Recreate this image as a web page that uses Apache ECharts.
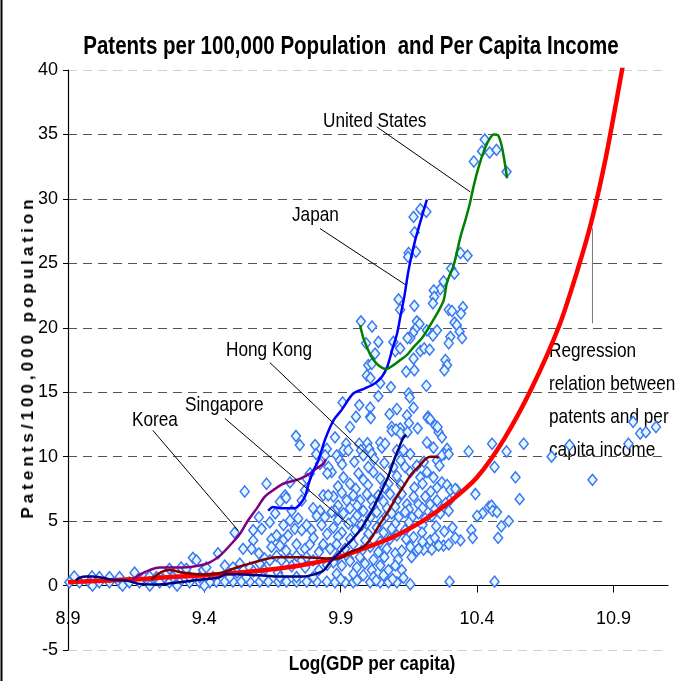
<!DOCTYPE html>
<html>
<head>
<meta charset="utf-8">
<title>Patents per 100,000 Population and Per Capita Income</title>
<script src="https://cdn.jsdelivr.net/npm/echarts@6/dist/echarts.min.js"></script>
<style>
  html, body { margin: 0; padding: 0; background: #fff; }
  #wrap { position: relative; width: 684px; height: 681px; }
  #chart { width: 684px; height: 681px; }
  /* y axis name: needs letter spacing, which canvas text in echarts can't do */
  #yName {
    position: absolute; left: 28px; top: 357px;
    transform: translate(-50%, -50%) rotate(-90deg);
    font: bold 17px 'Liberation Sans', Arial, sans-serif;
    letter-spacing: 4px; white-space: nowrap; color: #000;
  }
</style>
</head>
<body>
<div id="wrap">
  <div id="chart"></div>
  <div id="yName">Patents/100,000 population</div>
</div>
<script>
// axis ticks
var xTicks = [8.9, 9.4, 9.9, 10.4, 10.9]

// country data points (log gdp per capita, patents per 100,000)
var patentPoints = [
  [10.369, 10.4], [10.455, 11.0], [10.508, 10.4], [10.571, 11.0], [10.464, 9.2], [10.541, 8.4],
  [10.326, 7.4], [10.394, 7.1], [10.556, 6.7], [10.443, 6.1], [10.453, 6.2], [10.457, 5.8],
  [10.473, 5.7], [10.42, 5.6], [10.4, 5.4], [10.516, 5.0], [10.489, 4.6], [10.379, 4.3],
  [10.384, 3.7], [10.477, 3.7], [10.339, 3.5], [10.464, 0.3], [10.673, 10.0], [10.739, 10.9],
  [10.823, 8.2], [10.955, 11.0], [10.972, 12.7], [10.998, 11.8], [11.019, 11.9], [11.056, 12.3],
  [10.428, 34.6], [10.418, 33.7], [10.446, 33.6], [10.471, 33.8], [10.388, 32.9], [10.508, 32.1],
  [10.192, 29.2], [10.214, 29.0], [10.167, 28.6], [10.171, 27.4], [10.176, 25.9], [10.149, 25.8],
  [10.147, 25.5], [10.339, 25.8], [10.365, 25.6], [10.305, 24.6], [10.317, 24.2], [10.277, 23.6],
  [10.265, 23.0], [10.241, 22.9], [10.243, 22.4], [10.112, 22.2], [10.238, 21.9],
  [10.17, 21.7], [10.118, 21.4], [10.296, 21.4], [10.308, 21.3], [10.348, 21.6], [10.341, 21.1],
  [9.974, 20.5], [10.015, 20.1], [10.179, 20.5], [10.189, 20.3], [10.173, 19.9], [10.165, 19.6],
  [10.155, 19.2], [10.145, 19.2], [10.216, 19.8], [10.253, 19.8], [10.317, 20.4], [10.326, 20.2],
  [10.336, 19.7], [10.345, 19.2], [10.302, 19.3], [10.296, 18.8], [10.238, 19.4], [10.038, 18.9],
  [10.093, 18.9], [9.993, 18.8], [10.026, 18.0], [10.1, 18.2], [10.118, 18.4], [10.192, 18.2],
  [10.206, 18.4], [10.226, 18.3], [10.167, 17.6], [10.001, 17.1], [10.014, 17.2], [9.996, 16.3],
  [10.009, 16.1], [10.14, 16.6], [10.17, 16.7], [10.284, 17.5], [10.29, 17.1], [10.28, 16.7],
  [10.045, 15.7], [10.084, 15.4], [10.214, 15.5], [10.038, 14.7], [10.149, 14.9], [10.153, 14.6],
  [9.907, 14.2], [9.968, 14.0], [10.008, 13.8], [10.167, 13.8], [10.106, 13.7],
  [10.008, 13.1], [9.934, 12.3], [9.879, 11.5], [9.806, 10.9], [9.75, 10.9], [10.079, 13.3],
  [10.087, 12.3], [10.118, 12.2], [10.182, 12.2], [10.143, 13.2], [10.22, 13.1], [10.247, 12.4],
  [10.259, 11.9], [10.271, 11.5], [10.32, 3.7], [10.277, 3.1], [10.296, 3.2], [10.222, 3.0],
  [10.234, 2.8], [10.179, 2.7], [10.204, 2.8], [10.299, 0.3], [10.155, 0.1],
  [9.956, 13.1], [10.01, 13.0], [10.219, 13.0], [10.228, 12.9], [10.255, 12.3], [10.087, 12.0],
  [10.103, 12.1], [10.12, 11.8], [10.15, 12.6], [10.145, 11.9], [10.216, 11.1], [10.24, 10.7],
  [9.92, 11.0], [9.91, 10.5], [9.928, 10.5], [9.968, 11.0], [9.998, 11.05], [10.005, 10.6],
  [10.045, 11.1], [10.051, 10.7], [10.063, 11.0], [9.974, 10.5], [9.983, 10.1], [10.014, 10.2],
  [10.023, 9.8], [10.106, 10.5], [10.13, 10.5], [10.155, 10.2], [10.29, 10.6], [10.28, 10.2],
  [10.271, 10.1], [10.296, 10.2], [10.253, 9.7], [9.885, 10.1], [9.897, 9.7],
  [9.905, 9.4], [9.95, 9.6], [10.06, 9.5], [10.12, 9.7], [10.205, 9.6], [10.262, 9.3],
  [9.867, 8.8], [9.91, 8.4], [9.934, 7.9], [9.965, 8.7], [9.983, 8.2], [10.001, 9.2],
  [10.02, 8.8], [10.045, 8.3], [10.075, 7.9], [10.093, 9.2], [10.106, 8.5], [10.136, 9.2],
  [10.155, 8.8], [10.179, 9.3], [10.192, 8.4], [10.216, 8.8], [10.24, 8.4], [10.253, 7.6],
  [10.271, 8.0], [10.29, 7.8], [10.302, 7.4], [10.32, 7.5],
  [9.89, 7.7], [9.955, 7.5], [10.0, 7.8], [10.06, 7.6], [10.12, 7.8], [10.17, 7.6],
  [10.2, 7.9], [10.23, 7.3],
  [9.873, 6.9], [9.904, 7.2], [9.922, 6.6], [9.946, 7.0], [9.971, 6.6], [9.996, 7.1],
  [10.014, 6.6], [10.038, 7.0], [10.057, 6.5], [10.081, 7.1], [10.106, 6.6], [10.124, 7.1],
  [10.143, 6.3], [10.167, 6.9], [10.185, 6.3], [10.21, 6.9], [10.228, 6.3], [10.253, 6.6],
  [10.277, 6.1], [10.299, 6.6],
  [9.89, 6.2], [9.96, 6.2], [10.02, 6.1], [10.07, 6.0], [10.1, 6.1], [10.15, 5.9],
  [10.2, 6.0], [10.245, 5.9], [10.285, 6.4],
  [9.879, 5.8], [9.91, 5.6], [9.934, 6.0], [9.959, 5.4], [9.983, 5.8], [10.008, 5.3],
  [10.032, 5.7], [10.063, 5.3], [10.087, 5.6], [10.112, 5.3], [10.136, 5.7], [10.161, 5.3],
  [10.185, 5.6], [10.21, 5.2], [10.234, 5.4], [10.265, 5.6], [10.296, 5.8],
  [9.89, 5.1], [9.945, 5.0], [9.995, 4.8], [10.05, 5.0], [10.1, 4.8], [10.15, 4.9],
  [10.2, 4.7], [10.25, 4.6], [10.28, 4.2], [10.31, 4.5],
  [9.873, 4.5], [9.904, 4.1], [9.928, 4.8], [9.953, 4.3], [9.977, 4.7], [10.001, 4.0],
  [10.032, 4.5], [10.057, 4.1], [10.087, 4.4], [10.106, 3.9], [10.136, 4.3], [10.167, 3.75],
  [10.198, 4.1], [10.228, 3.5], [10.259, 3.1],
  [9.89, 3.8], [9.935, 3.6], [9.99, 3.5], [10.045, 3.4], [10.08, 3.6], [10.14, 3.6],
  [10.2, 3.4], [10.245, 3.7],
  [9.885, 3.2], [9.916, 2.85], [9.946, 3.2], [9.977, 2.7], [10.008, 3.0], [10.038, 2.6],
  [10.069, 2.85], [10.1, 2.5], [10.124, 2.7], [10.155, 3.0], [10.185, 2.85],
  [9.89, 2.3], [9.93, 2.1], [9.97, 2.2], [10.02, 2.0], [10.06, 2.2], [10.11, 2.0], [10.16, 2.2],
  [9.873, 1.8], [9.904, 1.55], [9.934, 1.9], [9.959, 1.4], [9.989, 1.7], [10.014, 1.2],
  [10.045, 1.55], [10.075, 1.2], [10.1, 1.55], [10.124, 1.2],
  [9.879, 0.25], [9.916, 0.25], [9.946, 0.25], [10.008, 0.25], [10.045, 0.25], [10.075, 0.25],
  [10.106, 0.25], [9.885, 0.9], [9.946, 0.9], [9.983, 0.8], [10.02, 0.65], [10.057, 0.8],
  [9.9, 0.5], [9.96, 0.4], [10.03, 0.4], [10.09, 0.5], [10.13, 0.6],
  [9.736, 11.6], [9.81, 10.2], [9.849, 10.6], [9.843, 10.1], [9.855, 9.2], [9.851, 8.7],
  [9.824, 9.45], [9.787, 8.7], [9.775, 8.3], [9.714, 8.0], [9.769, 7.4], [9.757, 6.6],
  [9.628, 7.9], [9.548, 7.3], [9.677, 6.5], [9.696, 7.0], [9.836, 7.0], [9.854, 7.0],
  [9.799, 6.0], [9.824, 5.8], [9.812, 5.4], [9.842, 5.3], [9.867, 5.7], [9.714, 5.05],
  [9.744, 5.2], [9.732, 4.4], [9.757, 4.3], [9.775, 4.7], [9.793, 4.3], [9.61, 4.4],
  [9.579, 4.3], [9.646, 3.6], [9.511, 4.1], [9.579, 3.5], [9.665, 3.9], [9.689, 3.5],
  [9.707, 3.9], [9.542, 2.85], [9.573, 2.85], [9.646, 3.0], [9.677, 3.1], [9.738, 3.2],
  [9.769, 2.85], [9.787, 3.2], [9.836, 3.2], [9.861, 2.85], [9.45, 2.5], [9.475, 1.55],
  [9.505, 1.4], [9.53, 1.7], [9.567, 1.4], [9.603, 1.7], [9.621, 2.1], [9.64, 1.95],
  [9.665, 2.3], [9.683, 1.95], [9.714, 2.1], [9.738, 2.3], [9.757, 1.95], [9.775, 2.2],
  [9.799, 1.95], [9.82, 1.2], [9.85, 1.6],
  [9.6, 5.3], [9.64, 4.9], [9.69, 4.7], [9.66, 5.6], [9.72, 5.8], [9.7, 6.8],
  [9.6, 2.5], [9.7, 2.7], [9.82, 2.6], [9.85, 4.0], [9.83, 4.7], [9.8, 3.7],
  [9.72, 1.5], [9.77, 1.4], [9.62, 1.2], [9.67, 1.0], [9.52, 1.0], [9.58, 1.1],
  [9.444, 0.3], [9.475, 0.3], [9.505, 0.3], [9.536, 0.3], [9.567, 0.3], [9.603, 0.3],
  [9.634, 0.3], [9.671, 0.3], [9.701, 0.3], [9.738, 0.3], [9.775, 0.3], [9.812, 0.3],
  [9.849, 0.3], [9.432, 0.65], [9.493, 0.65], [9.554, 0.65], [9.615, 0.65], [9.677, 0.65],
  [9.738, 0.65], [9.799, 0.65],
  [8.923, 0.7], [8.988, 0.7], [9.144, 1.0], [9.358, 2.15], [9.371, 1.95], [9.272, 1.3],
  [9.315, 1.4], [9.334, 1.3], [9.395, 1.2], [9.407, 1.4], [9.18, 0.65], [9.199, 0.7],
  [9.224, 0.65], [9.248, 0.5],
  [8.905, 0.25], [8.942, 0.25], [8.978, 0.25], [9.015, 0.25], [9.052, 0.25], [9.089, 0.25],
  [9.125, 0.25], [9.162, 0.25], [9.199, 0.25], [9.236, 0.25], [9.272, 0.25], [9.309, 0.25],
  [9.346, 0.25], [9.383, 0.25], [9.42, 0.25],
  [8.99, 0.0], [9.1, 0.0], [9.2, 0.0], [9.3, 0.0], [9.4, 0.0],
  [9.015, 0.65], [9.052, 0.65], [9.089, 0.65], [9.285, 0.65], [9.346, 0.65], [9.383, 0.65]
]

// regression relation (red)
var regressionLine = [
  [8.9, 0.25], [9.0, 0.35], [9.1, 0.45], [9.2, 0.55], [9.3, 0.7], [9.4, 0.8],
  [9.5, 0.95], [9.6, 1.15], [9.7, 1.4], [9.8, 1.75], [9.9, 2.25], [10.0, 3.0],
  [10.1, 3.85], [10.2, 5.0], [10.3, 6.5], [10.4, 8.4], [10.5, 11.4], [10.6, 15.3],
  [10.7, 20.1], [10.77, 24.6], [10.82, 28.3], [10.87, 33.0], [10.91, 37.5], [10.94, 41.0]
]

var koreaLine = [
  [9.138, 0.5], [9.168, 0.9], [9.199, 1.2], [9.236, 1.4], [9.321, 1.4], [9.383, 1.55],
  [9.42, 1.8], [9.456, 2.3], [9.493, 3.1], [9.53, 4.0], [9.56, 5.05], [9.591, 5.95],
  [9.622, 6.9], [9.659, 7.5], [9.689, 7.9], [9.732, 8.15], [9.762, 8.4], [9.787, 8.7],
  [9.812, 9.1], [9.836, 9.45], [9.846, 9.8]
]

var singaporeLine = [
  [9.205, 0.45], [9.224, 0.8], [9.248, 1.1], [9.272, 1.2], [9.321, 1.0], [9.395, 0.85],
  [9.456, 0.95], [9.518, 1.4], [9.567, 1.7], [9.615, 2.0], [9.665, 2.2], [9.762, 2.2],
  [9.849, 2.1], [9.891, 2.1], [9.934, 2.6], [9.983, 3.0], [10.014, 3.75], [10.045, 4.8],
  [10.075, 5.8], [10.106, 6.9], [10.136, 7.9], [10.161, 8.7], [10.185, 9.2], [10.21, 9.8],
  [10.228, 10.0], [10.247, 10.0], [10.259, 9.9]
]

var hongKongLine = [
  [8.929, 0.4], [8.942, 0.6], [8.966, 0.7], [8.99, 0.7], [9.027, 0.6], [9.064, 0.45],
  [9.113, 0.4], [9.162, 0.13], [9.211, 0.08], [9.26, 0.13], [9.309, 0.25], [9.358, 0.4],
  [9.407, 0.5], [9.456, 0.65], [9.481, 0.9], [9.542, 0.85], [9.603, 0.8], [9.665, 0.7],
  [9.762, 0.7], [9.799, 0.85], [9.836, 1.15], [9.861, 1.8], [9.897, 2.6], [9.934, 3.4],
  [9.971, 4.3], [10.001, 5.3], [10.026, 6.3], [10.051, 7.4], [10.075, 8.5], [10.093, 9.6],
  [10.112, 10.6], [10.128, 11.4], [10.14, 11.7]
]

var japanLine = [
  [9.634, 5.8], [9.652, 6.1], [9.677, 6.0], [9.707, 6.0], [9.732, 6.0], [9.75, 6.3],
  [9.769, 6.9], [9.781, 7.8], [9.799, 8.9], [9.818, 9.7], [9.842, 11.3], [9.873, 12.8],
  [9.904, 13.65], [9.946, 14.9], [9.989, 15.3], [10.026, 15.7], [10.051, 16.2], [10.071, 17.0],
  [10.088, 18.25], [10.106, 19.5], [10.118, 20.8], [10.133, 22.4], [10.149, 24.5], [10.173, 26.8],
  [10.189, 28.0], [10.204, 29.1], [10.216, 29.95]
]

var usLine = [
  [9.971, 20.2], [9.983, 19.2], [9.996, 18.5], [10.014, 17.7], [10.038, 17.1], [10.067, 16.8],
  [10.093, 17.1], [10.118, 17.5], [10.143, 17.9], [10.167, 18.5], [10.198, 19.2], [10.228, 20.2],
  [10.253, 21.1], [10.277, 22.1], [10.29, 23.55], [10.314, 24.85], [10.339, 27.05], [10.357, 28.35],
  [10.373, 29.6], [10.388, 31.05], [10.406, 32.5], [10.424, 33.65], [10.443, 34.55], [10.461, 35.0],
  [10.476, 34.95], [10.488, 34.3], [10.498, 33.25], [10.51, 31.6]
]

// leader lines from labels to curves, in data coordinates
var leaderUS = [[10.032, 35.59], [10.375, 30.54]]
var leaderJapan = [[9.824, 27.7], [10.136, 23.36]]
var leaderHongKong = [[9.64, 17.3], [10.125, 7.53]]
var leaderSingapore = [[9.475, 12.97], [9.934, 4.66]]
var leaderKorea = [[9.211, 12.04], [9.524, 4.27]]
var leaderRegression = [[10.823, 27.72], [10.823, 20.35]]

var sans = "'Liberation Sans', Arial, sans-serif"
var squeeze = 0.82 // the original uses a narrow face

function curve (data, color, width) {
  return {
    type: 'line',
    data: data,
    smooth: 0.3,
    symbol: 'none',
    silent: true,
    lineStyle: { color: color, width: width }
  }
}

function leader (data, color) {
  return {
    type: 'line',
    data: data,
    symbol: 'none',
    silent: true,
    lineStyle: { color: color || '#000', width: 1 }
  }
}

function label (text, x, y, size, bold, align) {
  return {
    type: 'text',
    x: x,
    y: y,
    scaleX: squeeze,
    silent: true,
    style: {
      text: text,
      fontFamily: sans,
      fontSize: size,
      fontWeight: bold ? 'bold' : 'normal',
      fill: '#000',
      align: align || 'left',
      verticalAlign: 'middle'
    }
  }
}

var chart = echarts.init(document.getElementById('chart'))
chart.setOption({
  animation: false,
  backgroundColor: '#fff',
  grid: { left: 68, right: 16, top: 70, bottom: 31, outerBoundsMode: 'none', containLabel: false },
  xAxis: {
    type: 'value',
    min: 8.9,
    max: 11.1,
    interval: 0.5,
    axisLine: { onZero: true, lineStyle: { color: '#000', width: 1.2 } },
    axisTick: { show: true, length: 7, customValues: xTicks, lineStyle: { color: '#000' } },
    axisLabel: {
      customValues: xTicks,
      margin: -40,
      color: '#000',
      fontFamily: sans,
      fontSize: 18,
      formatter: function (v) { return v.toFixed(1) }
    },
    splitLine: { show: false }
  },
  yAxis: {
    type: 'value',
    min: -5,
    max: 40,
    interval: 5,
    axisLine: { show: true, lineStyle: { color: '#000', width: 1.2 } },
    axisTick: { show: true, length: 5, lineStyle: { color: '#000' } },
    axisLabel: { margin: 10, color: '#000', fontFamily: sans, fontSize: 18 },
    splitLine: {
      show: true,
      lineStyle: {
        color: ['#d0d0d0', 'rgba(0,0,0,0)', '#555', '#555', '#555', '#555', '#555', '#555', '#555', '#d0d0d0'],
        type: [9, 6],
        width: 1
      }
    }
  },
  series: [
    {
      type: 'scatter',
      data: patentPoints,
      symbol: 'diamond',
      symbolSize: [9, 11],
      silent: true,
      itemStyle: { color: '#e4f6ff', borderColor: '#3a78f2', borderWidth: 1.5, opacity: 1 }
    },
    curve(regressionLine, '#ff0000', 4.5),
    curve(koreaLine, '#800080', 2.5),
    curve(singaporeLine, '#800000', 2.5),
    curve(hongKongLine, '#000080', 2.5),
    curve(japanLine, '#0000ff', 2.5),
    curve(usLine, '#008000', 2.5),
    leader(leaderUS),
    leader(leaderJapan),
    leader(leaderHongKong),
    leader(leaderSingapore),
    leader(leaderKorea),
    leader(leaderRegression, '#777')
  ],
  graphic: [
    label('Patents per 100,000 Population  and Per Capita Income', 351, 47, 25, true, 'center'),
    label('Log(GDP per capita)', 372, 664, 21, true, 'center'),
    label('United States', 323, 121, 21),
    label('Japan', 292, 215, 21),
    label('Hong Kong', 226, 350, 21),
    label('Singapore', 185, 405, 21),
    label('Korea', 132, 420, 21),
    label('Regression', 549, 351, 21),
    label('relation between', 549, 384, 21),
    label('patents and per', 549, 417, 21),
    label('capita income', 549, 450, 21),
    {
      type: 'line',
      silent: true,
      shape: { x1: 1.5, y1: 0, x2: 1.5, y2: 681 },
      style: { stroke: '#000', lineWidth: 2 }
    }
  ]
})
</script>
</body>
</html>
